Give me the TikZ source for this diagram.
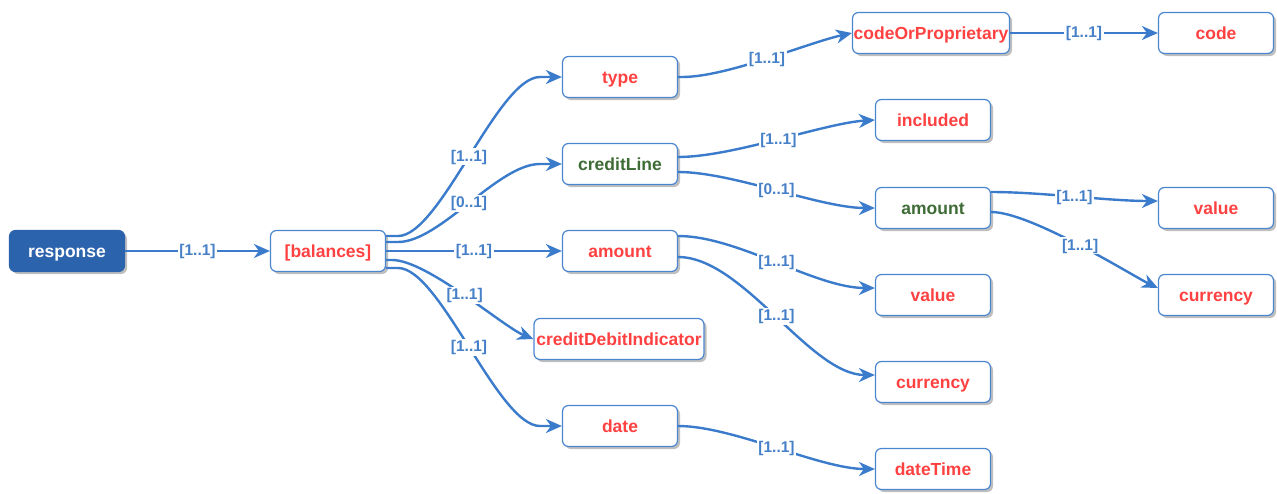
\documentclass[tikz,border=0pt]{standalone}
\usepackage{fontspec}
\setmainfont{Liberation Sans}
\usetikzlibrary{arrows.meta,shadows,calc}

\definecolor{linkblue}{HTML}{3A7BCB}
\definecolor{boxline}{HTML}{4A86D0}
\definecolor{rootfill}{HTML}{2B63AC}
\definecolor{fieldred}{HTML}{FF4141}
\definecolor{fieldgreen}{HTML}{3E6B36}
\definecolor{cardblue}{HTML}{4680C8}

\tikzset{
  box/.style={draw=boxline, line width=1.2pt, fill=white, rounded corners=6pt,
    minimum width=115pt, minimum height=41pt, inner sep=0pt,
    text height=15pt, text depth=2.5pt,
    font=\fontsize{17.5}{20}\selectfont\bfseries, text=fieldred,
    drop shadow={shadow xshift=2.5pt, shadow yshift=-2.5pt, opacity=0.25, fill=black}},
  rootbox/.style={box, fill=rootfill, draw=rootfill, text=white},
  greenbox/.style={box, text=fieldgreen},
  edge/.style={draw=linkblue, line width=2.4pt,
    -{Stealth[length=16pt,width=14pt,inset=5pt]}},
  card/.style={fill=white, inner sep=1.5pt, text=cardblue,
    text height=11.5pt, text depth=2.5pt,
    font=\fontsize{15.5}{17}\selectfont\bfseries},
}

\begin{document}
\begin{tikzpicture}[x=1pt,y=-1pt]
\useasboundingbox (0,0) rectangle (1277,493);

% nodes
\node[rootbox] (resp) at (67,251) {response};
\node[box] (bal) at (328,251) {[balances]};
\node[box] (type) at (620,77) {type};
\node[greenbox] (credit) at (620,164) {creditLine};
\node[box] (amtA) at (620,251) {amount};
\node[box, minimum width=170pt] (cdi) at (619,339) {creditDebitIndicator};
\node[box] (date) at (620,426) {date};
\node[box, minimum width=157pt] (cop) at (931,33) {codeOrProprietary};
\node[box] (code) at (1216,33) {code};
\node[box] (incl) at (933,120) {included};
\node[greenbox] (amtB) at (933,208) {amount};
\node[box] (valA) at (933,295) {value};
\node[box] (curA) at (933,382) {currency};
\node[box] (dt) at (933,469) {dateTime};
\node[box] (valB) at (1216,208) {value};
\node[box] (curB) at (1216,295) {currency};

% connectors
\draw[edge] (resp.east) -- node[card]{[1..1]} (bal.west);

\draw[edge] ($(bal.east)+(0,-15)$) -- ++(12,0)
  .. controls +(42,0) and +(-42,0) .. ($(type.west)+(-22,0)$)
  node[card,pos=.5]{[1..1]} -- (type.west);
\draw[edge] ($(bal.east)+(0,-9)$) -- ++(12,0)
  .. controls +(42,0) and +(-42,0) .. ($(credit.west)+(-22,0)$)
  node[card,pos=.5]{[0..1]} -- (credit.west);
\draw[edge] (bal.east) -- node[card]{[1..1]} (amtA.west);
\draw[edge] ($(bal.east)+(0,9)$) -- ++(6,0)
  .. controls +(35,0) and +(-30,-12) .. (cdi.west)
  node[card,pos=.5]{[1..1]};
\draw[edge] ($(bal.east)+(0,17)$) -- ++(12,0)
  .. controls +(42,0) and +(-42,0) .. ($(date.west)+(-22,0)$)
  node[card,pos=.5]{[1..1]} -- (date.west);

\draw[edge] (type.east) -- ++(4,0)
  .. controls +(45,0) and +(-45,10) .. (cop.west)
  node[card,pos=.5]{[1..1]};
\draw[edge] (cop.east) -- node[card]{[1..1]} (code.west);

\draw[edge] ($(credit.east)+(0,-7)$)
  .. controls +(55,0) and +(-50,3) .. (incl.west)
  node[card,pos=.5]{[1..1]};
\draw[edge] ($(credit.east)+(0,8)$)
  .. controls +(55,0) and +(-55,0) .. (amtB.west)
  node[card,pos=.5]{[0..1]};
\draw[edge] ($(amtA.east)+(0,-15)$)
  .. controls +(60,0) and +(-60,0) .. ($(valA.west)+(0,-7)$)
  node[card,pos=.5]{[1..1]};
\draw[edge] ($(amtA.east)+(0,6)$)
  .. controls +(65,0) and +(-65,0) .. ($(curA.west)+(0,-7)$)
  node[card,pos=.5]{[1..1]};
\draw[edge] (date.east)
  .. controls +(55,0) and +(-55,0) .. (dt.west)
  node[card,pos=.5]{[1..1]};

\draw[edge] ($(amtB.east)+(0,-16)$)
  .. controls +(50,0) and +(-50,0) .. ($(valB.west)+(0,-7)$)
  node[card,pos=.5]{[1..1]};
\draw[edge] ($(amtB.east)+(0,4)$)
  .. controls +(40,0) and +(-25,-12) .. ($(curB.west)+(0,-7)$)
  node[card,pos=.5]{[1..1]};
\end{tikzpicture}
\end{document}
